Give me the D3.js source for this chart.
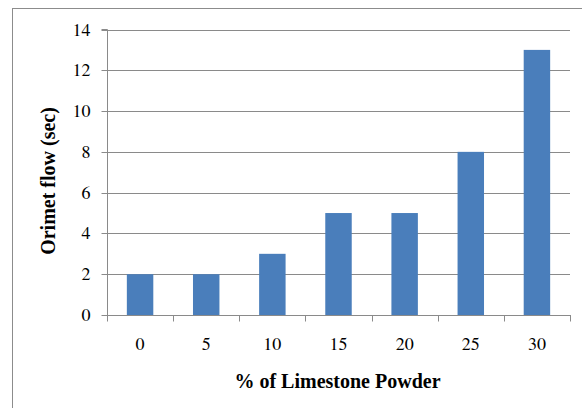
<!DOCTYPE html>
<html><head><meta charset="utf-8">
<script src="https://cdn.jsdelivr.net/npm/d3@7"></script>
<style>body{margin:0;background:#fff}svg{display:block}</style>
</head><body>
<script>
const categories = ["0","5","10","15","20","25","30"];
const values = [2,2,3,5,5,8,13];
const yTicks = [0,2,4,6,8,10,12,14];
const xTitle = "% of Limestone Powder";
const yTitle = "Orimet flow (sec)";

const FONT = '"Liberation Serif"';
const TICKFONT = '"FreeSerif", "Liberation Serif"';
const W = 582, H = 408;
const svg = d3.select("body").append("svg").attr("width", W).attr("height", H);
svg.append("rect").attr("x", 12.5).attr("y", 8.5).attr("width", 600).attr("height", 500)
  .attr("fill", "#fff").attr("stroke", "#8c8c8c").attr("stroke-width", 1);

const L = 107, R = 570, T = 29.5, B = 315;
const x = d3.scaleBand().domain(categories).range([L, R]).paddingInner(0.6).paddingOuter(0.3);
const xb = d3.scaleBand().domain(categories).range([L, R]);
const y = d3.scaleLinear().domain([0, 14]).range([B, T]);

const g = svg.append("g");
g.selectAll(".grid").data(yTicks.filter(d => d > 0)).join("line")
  .attr("x1", L).attr("x2", R).attr("y1", d => Math.round(y(d)) + 0.5).attr("y2", d => Math.round(y(d)) + 0.5)
  .attr("stroke", "#8a8a8a").attr("stroke-width", 1);

g.selectAll(".bar").data(values).join("rect")
  .attr("x", (d, i) => x(categories[i])).attr("width", x.bandwidth())
  .attr("y", d => y(d)).attr("height", d => B - y(d))
  .attr("fill", "#4a7ebb");

const yAxis = d3.axisLeft(y).tickValues(yTicks).tickSize(6).tickPadding(11);
const ya = svg.append("g").attr("transform", `translate(${L + 0.5},0)`).call(yAxis);
ya.select(".domain").attr("stroke", "#8a8a8a").attr("d", `M-6,${T}H0V${B}`);
ya.selectAll(".tick line").attr("stroke", "#8a8a8a");
ya.selectAll(".tick").attr("transform", d => `translate(0,${Math.round(y(d)) + 0.5})`);
ya.selectAll("text").style("font-family", TICKFONT).style("font-size", "18px").attr("fill", "#000");

const xa = svg.append("g").attr("transform", `translate(0,${B + 0.5})`);
xa.append("line").attr("x1", L).attr("x2", R + 1).attr("stroke", "#8a8a8a");
const tickPos = categories.map(c => xb(c)).concat([R]);
xa.selectAll(".xt").data(tickPos).join("line")
  .attr("x1", d => Math.round(d) + 0.5).attr("x2", d => Math.round(d) + 0.5).attr("y1", 0).attr("y2", 6)
  .attr("stroke", "#8a8a8a");
const xAxis = d3.axisBottom(xb).tickSize(0).tickPadding(22);
const xl = svg.append("g").attr("transform", `translate(0,${B})`).call(xAxis);
xl.select(".domain").remove();
xl.selectAll("text").style("font-family", TICKFONT).style("font-size", "18px").attr("fill", "#000");

svg.append("text").attr("x", (L + R) / 2 - 1).attr("y", 388).attr("text-anchor", "middle")
  .style("font-family", FONT).style("font-weight", "bold").style("font-size", "20px").text(xTitle);
svg.append("text").attr("transform", `translate(55,181) rotate(-90)`).attr("text-anchor", "middle")
  .style("font-family", FONT).style("font-weight", "bold").style("font-size", "20px").text(yTitle);
</script>
</body></html>
